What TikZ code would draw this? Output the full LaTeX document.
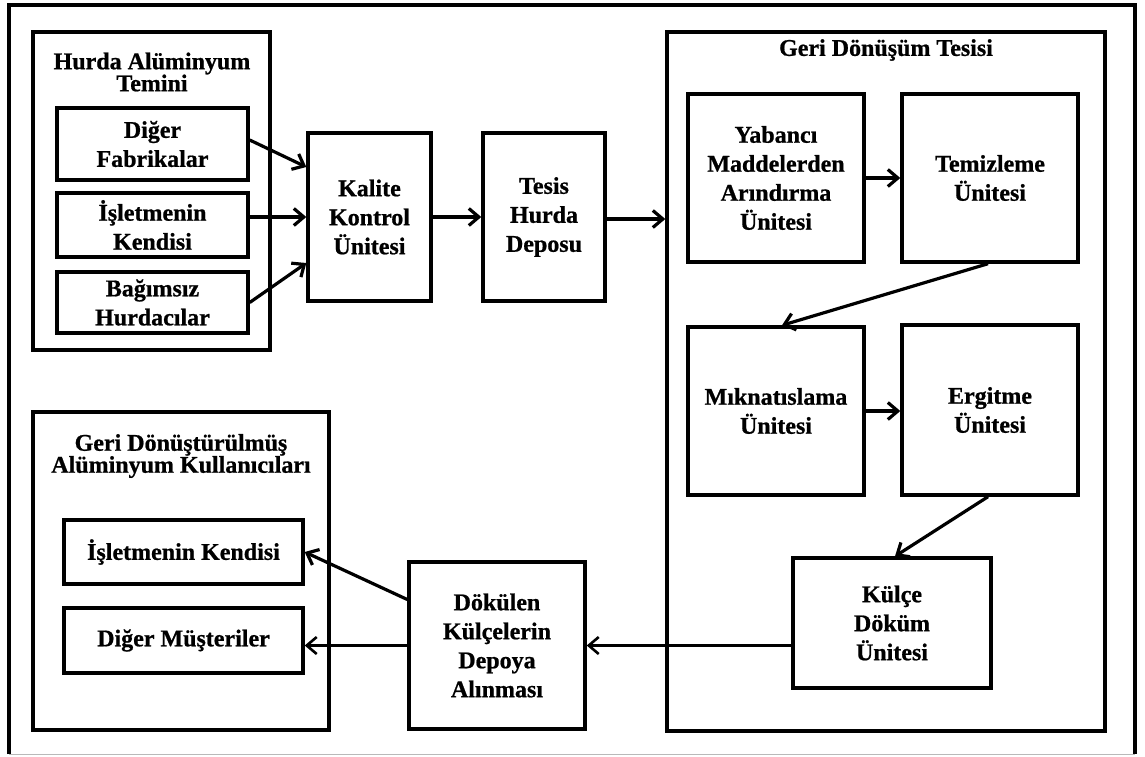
\documentclass[tikz,border=0pt]{standalone}
\usepackage{fontspec}
\setmainfont{Liberation Serif}[BoldFeatures={FakeBold=0.8}]
\usetikzlibrary{arrows.meta}
\begin{document}
\begin{tikzpicture}[x=1pt,y=-1pt,
  box/.style={draw, line width=3.4pt, inner sep=2pt, align=center,
    font=\bfseries\fontsize{24}{29}\selectfont},
  group/.style={draw, line width=3.4pt, inner sep=0pt},
  title/.style={align=center, inner sep=0pt,
    font=\bfseries\fontsize{24}{22}\selectfont},
  sz/.style 2 args={minimum width=#1pt, minimum height=#2pt},
  flow/.style={line width=3.2pt, -{Straight Barb[length=10pt,width=17pt]}},
  thinflow/.style={flow, line width=2.6pt}
]
\useasboundingbox (0,0) rectangle (1145,756);
\fill[white] (0,0) rectangle (1145,756);

% outer frame
\draw[line width=3.4pt] (9,754) -- (9,5) -- (1135,5) -- (1135,754);
\draw[gray!55, line width=1pt] (9,754) -- (1135,754);

% scrap supply
\node[group, sz={237}{318}] (supply) at (151.5,191) {};
\node[title] (supplyT) at (152,72) {Hurda Alüminyum\\Temini};
\node[box, sz={191}{72}] (fab) at (152.5,144) {Diğer\\Fabrikalar};
\node[box, sz={191}{64}] (own) at (152.5,225) {İşletmenin\\Kendisi};
\node[box, sz={191}{61}] (ind) at (152.5,302.5) {Bağımsız\\Hurdacılar};

\node[box, sz={123}{168}] (qc) at (369.5,217) {Kalite\\Kontrol\\Ünitesi};
\node[box, sz={122}{168}] (store) at (544,217) {Tesis\\Hurda\\Deposu};

% recycling plant
\node[group, sz={438}{699}] (plant) at (886,381.5) {};
\node[title] (plantT) at (886,50) {Geri Dönüşüm Tesisi};
\node[box, sz={176}{168}] (sep) at (776,178) {Yabancı\\Maddelerden\\Arındırma\\Ünitesi};
\node[box, sz={176}{168}] (clean) at (990,178) {Temizleme\\Ünitesi};
\node[box, sz={176}{168}] (mag) at (776,411) {Mıknatıslama\\Ünitesi};
\node[box, sz={176}{170}] (melt) at (990,410) {Ergitme\\Ünitesi};
\node[box, sz={198}{130}] (cast) at (892,623) {Külçe\\Döküm\\Ünitesi};

\node[box, sz={176}{167}] (ingot) at (497,645.5) {Dökülen\\Külçelerin\\Depoya\\Alınması};

% users of recycled aluminium
\node[group, sz={296}{318}] (users) at (181,571) {};
\node[title] (usersT) at (181,456) {Geri Dönüştürülmüş\\Alüminyum Kullanıcıları};
\node[box, sz={239}{64}] (uown) at (183.5,552) {İşletmenin Kendisi};
\node[box, sz={239}{65}] (uoth) at (183.5,640.5) {Diğer Müşteriler};

% connectors
\draw[flow] ([yshift=4pt]fab.east) -- ([yshift=50pt]qc.west);
\draw[flow] (own.east |- qc.west) -- (qc.west);
\draw[flow] (ind.east) -- ([yshift=-46pt]qc.west);
\draw[flow] (qc.east) -- (store.west);
\draw[flow] ([yshift=-2pt]store.east) -- ([yshift=-2pt]store.east -| plant.west);
\draw[flow] (sep.east) -- (clean.west);
\draw[flow] ([xshift=-2pt]clean.south) -- ([xshift=6pt]mag.north);
\draw[flow] (mag.east) -- (mag.east -| melt.west);
\draw[flow] ([xshift=-2pt]melt.south) -- ([xshift=3pt]cast.north);
\draw[thinflow] (cast.west |- ingot.east) -- (ingot.east);
\draw[flow] ([yshift=46pt]ingot.west) -- (uown.east);
\draw[thinflow] (ingot.west) -- (ingot.west -| uoth.east);
\end{tikzpicture}
\end{document}
